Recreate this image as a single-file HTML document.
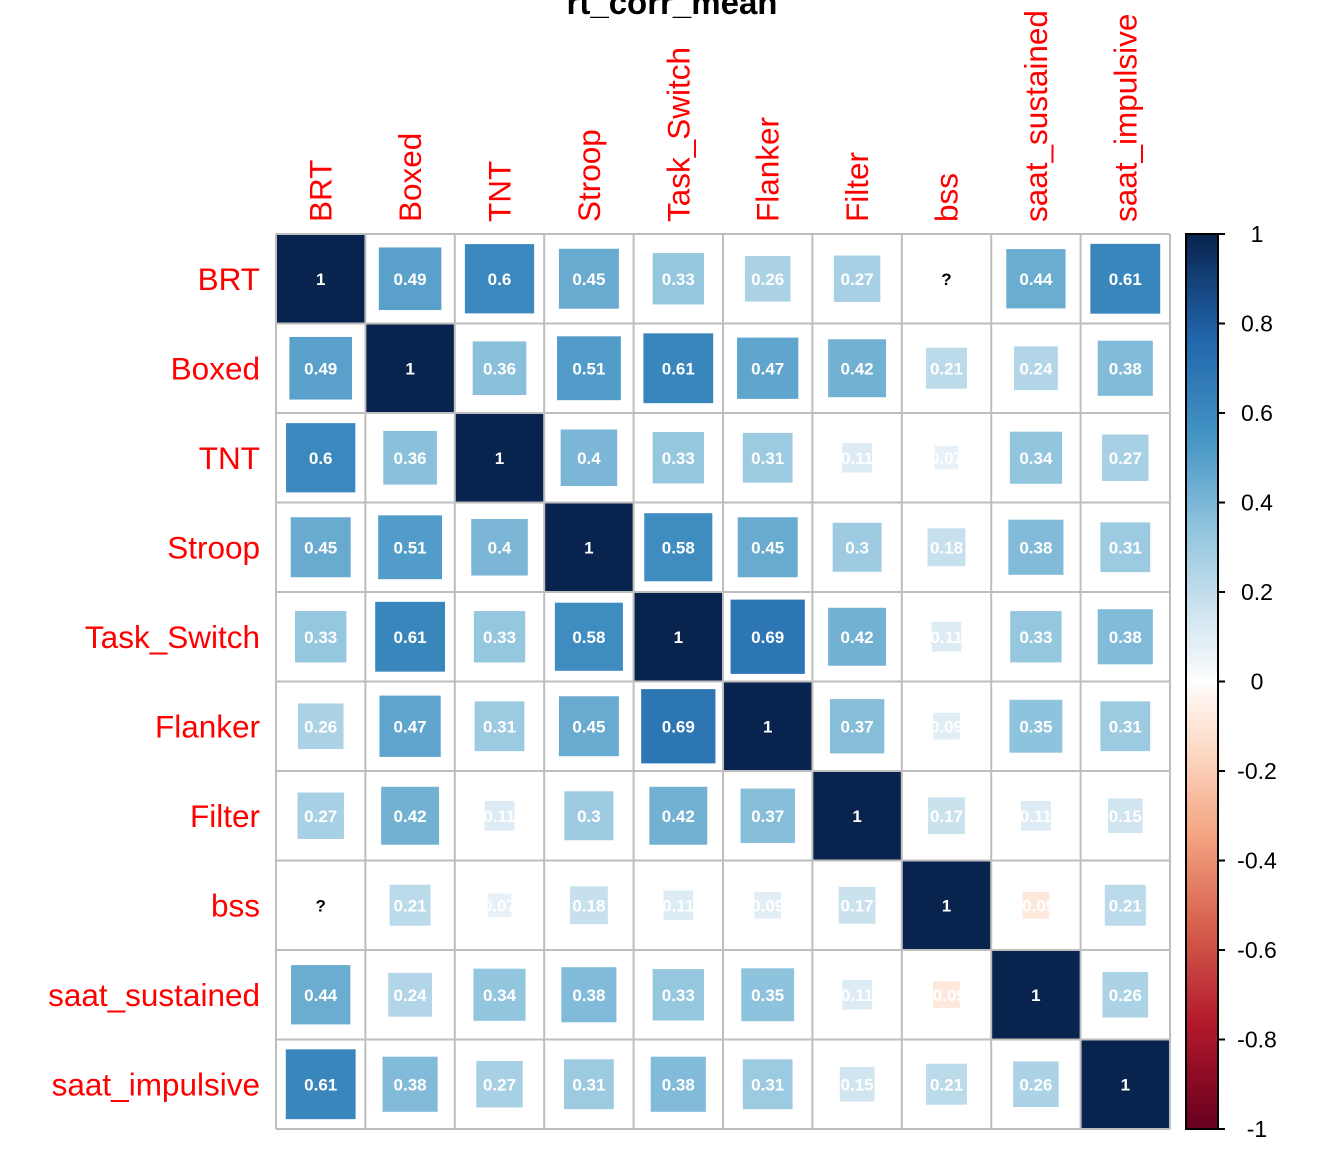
<!DOCTYPE html>
<html><head><meta charset="utf-8"><style>body{margin:0;background:#fff}svg{display:block;font-family:"Liberation Sans",Arial,sans-serif}</style></head>
<body>
<svg id="chart" width="1344" height="1152" viewBox="0 0 1344 1152">
<text x="672" y="14" text-anchor="middle" font-size="33" font-weight="bold">rt_corr_mean</text>
<g id="cells"></g>
<g id="labels"></g>
<g id="cbar"></g>
</svg>
<script>
const variables = ["BRT","Boxed","TNT","Stroop","Task_Switch","Flanker","Filter","bss","saat_sustained","saat_impulsive"];
const rowBRT = [1,0.49,0.6,0.45,0.33,0.26,0.27,null,0.44,0.61];
const rowBoxed = [0.49,1,0.36,0.51,0.61,0.47,0.42,0.21,0.24,0.38];
const rowTNT = [0.6,0.36,1,0.4,0.33,0.31,0.11,0.07,0.34,0.27];
const rowStroop = [0.45,0.51,0.4,1,0.58,0.45,0.3,0.18,0.38,0.31];
const rowTask = [0.33,0.61,0.33,0.58,1,0.69,0.42,0.11,0.33,0.38];
const rowFlanker = [0.26,0.47,0.31,0.45,0.69,1,0.37,0.09,0.35,0.31];
const rowFilter = [0.27,0.42,0.11,0.3,0.42,0.37,1,0.17,0.11,0.15];
const rowBss = [null,0.21,0.07,0.18,0.11,0.09,0.17,1,-0.09,0.21];
const rowSaatS = [0.44,0.24,0.34,0.38,0.33,0.35,0.11,-0.09,1,0.26];
const rowSaatI = [0.61,0.38,0.27,0.31,0.38,0.31,0.15,0.21,0.26,1];
const matrix = [rowBRT,rowBoxed,rowTNT,rowStroop,rowTask,rowFlanker,rowFilter,rowBss,rowSaatS,rowSaatI];
const cbarTicks = [1,0.8,0.6,0.4,0.2,0,-0.2,-0.4,-0.6,-0.8,-1];

const NS="http://www.w3.org/2000/svg";
const X0=276,Y0=234,X1=1170,Y1=1129;
const n=variables.length, cw=(X1-X0)/n, ch=(Y1-Y0)/n;
const pal=["#67001F","#B2182B","#D6604D","#F4A582","#FDDBC7","#FFFFFF","#D1E5F0","#92C5DE","#4393C3","#2166AC","#08234E"];
function hex(h){return [1,3,5].map(i=>parseInt(h.substr(i,2),16));}
function color(v){const w=Math.sign(v)*Math.pow(Math.abs(v),0.85);const t=(w+1)/2*(pal.length-1);const i=Math.min(pal.length-2,Math.floor(t));const f=t-i;const a=hex(pal[i]),b=hex(pal[i+1]);return "rgb("+a.map((c,k)=>Math.round(c+(b[k]-c)*f)).join(",")+")";}
function mk(tag,attrs,parent){const e=document.createElementNS(NS,tag);for(const k in attrs)e.setAttribute(k,attrs[k]);parent.appendChild(e);return e;}
const cells=document.getElementById('cells'),labels=document.getElementById('labels'),cbar=document.getElementById('cbar');
const xs=j=>X0+j*cw, ys=i=>Y0+i*ch;
matrix.forEach((row,i)=>row.forEach((v,j)=>{
  const cx=xs(j)+cw/2, cy=ys(i)+ch/2;
  if(v!==null){
    const s=Math.sqrt(Math.abs(v))*cw;
    const r=mk('rect',{x:cx-s/2,y:cy-s/2,width:s,height:s,fill:color(v)},cells);
    
    
  }
  const t=mk('text',{x:cx,y:cy+6,'text-anchor':'middle','font-size':17,'font-weight':'bold',fill:v===null?'#000':'#fff'},cells);
  t.textContent=v===null?'?':String(v);
  
  
}));
for(let k=0;k<=n;k++){
  mk('line',{x1:xs(k),y1:Y0,x2:xs(k),y2:Y1,stroke:'#BEBEBE','stroke-width':2},cells);
  mk('line',{x1:X0,y1:ys(k),x2:X1,y2:ys(k),stroke:'#BEBEBE','stroke-width':2},cells);
}
variables.forEach((name,i)=>{
  const t=mk('text',{x:260,y:ys(i)+ch/2+11,'text-anchor':'end','font-size':31.5,fill:'#FF0000'},labels);
  t.textContent=name;
  
  
  const cx=xs(i)+cw/2+11;
  const c=mk('text',{x:cx,y:222,transform:'rotate(-90 '+cx+' 222)','font-size':31.5,fill:'#FF0000'},labels);
  c.textContent=name;
  
  
});
const defs=mk('defs',{},cbar);
const g=mk('linearGradient',{id:'grad',x1:0,y1:1,x2:0,y2:0},defs);
for(let k=0;k<=100;k++){mk('stop',{offset:k/100,'stop-color':color(-1+k/50)},g);}
const CB0=1186,CB1=1218;
const cy=v=>Y0+(1-v)/2*(Y1-Y0);
const bar=mk('rect',{x:CB0,y:Y0,width:CB1-CB0,height:Y1-Y0,fill:'url(#grad)',stroke:'#000','stroke-width':2},cbar);


cbarTicks.forEach(v=>{
  mk('line',{x1:CB1,y1:cy(v),x2:CB1+7,y2:cy(v),stroke:'#000','stroke-width':2},cbar);
  const t=mk('text',{x:1257,y:cy(v)+8,'text-anchor':'middle','font-size':23,fill:'#000'},cbar);
  t.textContent=String(v);
  
  
});
</script>
</body></html>
